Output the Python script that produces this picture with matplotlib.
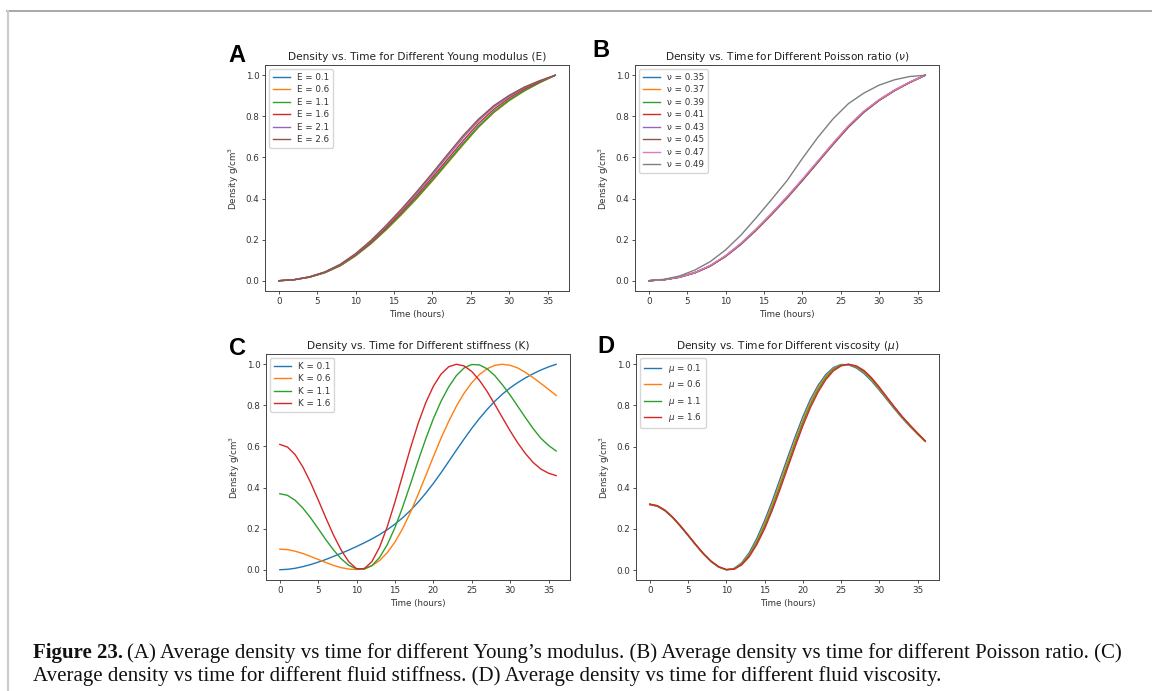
"""
Density vs. time for different material parameters (Figure 23)

Functions:
    plot_panel
    add_caption
"""


###############
# - IMPORTS - #
###############

import matplotlib

matplotlib.use("Agg")
import matplotlib.pyplot as plt
from matplotlib.lines import Line2D


############
# - DATA - #
############

# Time grids (hours)
time_coarse = [0, 2, 4, 6, 8, 10, 12, 14, 16, 18, 20, 22, 24, 26, 28, 30, 32, 34, 36]
time_fine = list(range(0, 37))

# - Panel A : Young modulus - #
young_labels = ["E = 0.1", "E = 0.6", "E = 1.1", "E = 1.6", "E = 2.1", "E = 2.6"]
dens_e_01 = [0.000, 0.005, 0.018, 0.040, 0.074, 0.123, 0.183, 0.252, 0.327, 0.407,
             0.492, 0.580, 0.668, 0.752, 0.823, 0.880, 0.927, 0.966, 1.000]
dens_e_06 = [0.000, 0.005, 0.017, 0.039, 0.073, 0.121, 0.180, 0.248, 0.322, 0.401,
             0.485, 0.573, 0.661, 0.746, 0.818, 0.876, 0.924, 0.964, 1.000]
dens_e_11 = [0.000, 0.005, 0.017, 0.039, 0.073, 0.122, 0.181, 0.250, 0.325, 0.404,
             0.489, 0.577, 0.665, 0.749, 0.821, 0.878, 0.925, 0.965, 1.000]
dens_e_16 = [0.000, 0.005, 0.018, 0.041, 0.076, 0.126, 0.187, 0.258, 0.335, 0.417,
             0.503, 0.592, 0.681, 0.765, 0.834, 0.889, 0.934, 0.969, 1.000]
dens_e_21 = [0.000, 0.005, 0.019, 0.042, 0.078, 0.129, 0.192, 0.265, 0.344, 0.427,
             0.515, 0.606, 0.696, 0.778, 0.845, 0.897, 0.940, 0.972, 1.000]
dens_e_26 = [0.000, 0.005, 0.019, 0.043, 0.080, 0.132, 0.196, 0.270, 0.350, 0.435,
             0.524, 0.616, 0.706, 0.786, 0.852, 0.902, 0.943, 0.974, 1.000]

# - Panel B : Poisson ratio - #
poisson_labels = ["ν = 0.35", "ν = 0.37", "ν = 0.39", "ν = 0.41",
                  "ν = 0.43", "ν = 0.45", "ν = 0.47", "ν = 0.49"]
dens_nu_35 = [0.000, 0.005, 0.017, 0.038, 0.071, 0.118, 0.177, 0.246, 0.322, 0.402,
              0.487, 0.575, 0.663, 0.747, 0.819, 0.877, 0.925, 0.965, 1.000]
dens_nu_37 = [0.000, 0.005, 0.017, 0.038, 0.071, 0.119, 0.178, 0.247, 0.323, 0.403,
              0.488, 0.576, 0.664, 0.748, 0.820, 0.878, 0.925, 0.965, 1.000]
dens_nu_39 = [0.000, 0.005, 0.017, 0.039, 0.072, 0.119, 0.178, 0.248, 0.324, 0.404,
              0.489, 0.577, 0.665, 0.749, 0.821, 0.879, 0.926, 0.965, 1.000]
dens_nu_41 = [0.000, 0.005, 0.017, 0.039, 0.072, 0.120, 0.179, 0.249, 0.325, 0.405,
              0.490, 0.578, 0.666, 0.750, 0.822, 0.879, 0.926, 0.966, 1.000]
dens_nu_43 = [0.000, 0.005, 0.018, 0.039, 0.073, 0.120, 0.180, 0.250, 0.326, 0.406,
              0.491, 0.579, 0.667, 0.751, 0.822, 0.880, 0.927, 0.966, 1.000]
dens_nu_45 = [0.000, 0.005, 0.018, 0.040, 0.073, 0.121, 0.181, 0.251, 0.327, 0.407,
              0.492, 0.580, 0.668, 0.752, 0.823, 0.880, 0.927, 0.966, 1.000]
dens_nu_47 = [0.000, 0.005, 0.018, 0.040, 0.074, 0.122, 0.182, 0.252, 0.328, 0.409,
              0.494, 0.582, 0.670, 0.754, 0.825, 0.881, 0.928, 0.967, 1.000]
dens_nu_49 = [0.000, 0.007, 0.023, 0.052, 0.093, 0.150, 0.222, 0.307, 0.396, 0.487,
              0.595, 0.697, 0.788, 0.862, 0.913, 0.952, 0.978, 0.994, 1.000]

# - Panel C : fluid stiffness - #
stiffness_labels = ["K = 0.1", "K = 0.6", "K = 1.1", "K = 1.6"]
dens_k_01 = [0.000, 0.002, 0.007, 0.015, 0.025, 0.037, 0.050, 0.065, 0.080, 0.096,
             0.113, 0.131, 0.150, 0.171, 0.195, 0.222, 0.253, 0.288, 0.328, 0.372,
             0.420, 0.472, 0.527, 0.582, 0.636, 0.688, 0.736, 0.780, 0.820, 0.855,
             0.885, 0.911, 0.934, 0.954, 0.972, 0.987, 1.000]
dens_k_06 = [0.100, 0.098, 0.090, 0.079, 0.065, 0.050, 0.035, 0.021, 0.010, 0.003,
             0.001, 0.006, 0.020, 0.045, 0.083, 0.135, 0.200, 0.278, 0.365, 0.457,
             0.550, 0.640, 0.722, 0.796, 0.859, 0.910, 0.950, 0.978, 0.995, 1.000,
             0.995, 0.982, 0.960, 0.935, 0.907, 0.878, 0.848]
dens_k_11 = [0.370, 0.362, 0.338, 0.300, 0.253, 0.200, 0.146, 0.096, 0.053, 0.021,
             0.004, 0.003, 0.020, 0.060, 0.122, 0.205, 0.305, 0.415, 0.528, 0.636,
             0.735, 0.820, 0.890, 0.945, 0.982, 0.999, 0.997, 0.978, 0.945, 0.900,
             0.850, 0.795, 0.740, 0.687, 0.640, 0.605, 0.578]
dens_k_16 = [0.610, 0.597, 0.560, 0.500, 0.425, 0.340, 0.252, 0.168, 0.095, 0.038,
             0.005, 0.005, 0.040, 0.110, 0.210, 0.330, 0.460, 0.590, 0.710, 0.812,
             0.893, 0.952, 0.988, 1.000, 0.992, 0.965, 0.922, 0.868, 0.805, 0.740,
             0.676, 0.617, 0.565, 0.522, 0.490, 0.470, 0.458]

# - Panel D : fluid viscosity - #
viscosity_labels = [r"$\mu$ = 0.1", r"$\mu$ = 0.6", r"$\mu$ = 1.1", r"$\mu$ = 1.6"]
dens_mu_01 = [0.318, 0.310, 0.288, 0.255, 0.213, 0.168, 0.122, 0.079, 0.042, 0.015,
              0.002, 0.008, 0.035, 0.085, 0.155, 0.240, 0.335, 0.440, 0.545, 0.648,
              0.745, 0.830, 0.898, 0.950, 0.984, 0.999, 0.997, 0.982, 0.955, 0.918,
              0.874, 0.828, 0.782, 0.738, 0.698, 0.660, 0.625]
dens_mu_06 = [0.319, 0.311, 0.289, 0.256, 0.214, 0.169, 0.123, 0.080, 0.042, 0.015,
              0.002, 0.006, 0.031, 0.077, 0.143, 0.226, 0.319, 0.423, 0.528, 0.631,
              0.730, 0.817, 0.888, 0.942, 0.979, 0.997, 0.999, 0.986, 0.961, 0.924,
              0.879, 0.832, 0.786, 0.741, 0.700, 0.662, 0.626]
dens_mu_11 = [0.320, 0.312, 0.290, 0.256, 0.215, 0.170, 0.124, 0.080, 0.043, 0.016,
              0.002, 0.005, 0.028, 0.071, 0.134, 0.213, 0.304, 0.406, 0.511, 0.615,
              0.715, 0.804, 0.877, 0.934, 0.974, 0.995, 1.000, 0.989, 0.965, 0.929,
              0.884, 0.836, 0.789, 0.744, 0.703, 0.664, 0.627]
dens_mu_16 = [0.321, 0.313, 0.291, 0.257, 0.216, 0.171, 0.125, 0.081, 0.044, 0.017,
              0.003, 0.004, 0.025, 0.065, 0.125, 0.200, 0.290, 0.390, 0.495, 0.600,
              0.700, 0.790, 0.865, 0.925, 0.968, 0.992, 1.000, 0.992, 0.970, 0.934,
              0.889, 0.840, 0.792, 0.746, 0.705, 0.666, 0.628]

# Ticks
x_ticks = [0, 5, 10, 15, 20, 25, 30, 35]
y_ticks = [0.0, 0.2, 0.4, 0.6, 0.8, 1.0]

# Caption
caption_bold = "Figure 23."
caption_line_1 = ("(A) Average density vs time for different Young\u2019s modulus. "
                  "(B) Average density vs time for different Poisson ratio. (C)")
caption_line_2 = ("Average density vs time for different fluid stiffness. "
                  "(D) Average density vs time for different fluid viscosity.")


#################
# - FUNCTIONS - #
#################

W_PX, H_PX = 1152, 691


def px_box(left, top, right, bottom):
    """Convert a pixel box (origin top-left) to figure fractions"""
    return [left / W_PX, 1 - bottom / H_PX, (right - left) / W_PX, (bottom - top) / H_PX]


def plot_panel(fig, box, time, series, labels, title, letter, letter_xy):
    """
    Description :

        Plot one density vs time panel with its legend and panel letter
    """
    ax = fig.add_axes(px_box(*box))

    for values, label in zip(series, labels):
        ax.plot(time, values, lw=1.0, label=label)

    # Formating the plot
    ax.set_title(title, fontsize=7.6, pad=3.5, color="#222222")
    ax.set_xlabel("Time (hours)", fontsize=6.3, labelpad=3, color="#333333")
    ax.set_ylabel("Density g/cm$^3$", fontsize=6.3, labelpad=3, color="#333333")
    ax.set_xticks(x_ticks)
    ax.set_yticks(y_ticks)
    ax.tick_params(labelsize=6.3, length=2.2, width=0.6, pad=1.8,
                   colors="#333333")
    for spine in ax.spines.values():
        spine.set_linewidth(0.7)
        spine.set_color("#444444")

    ax.legend(loc="upper left", fontsize=6.3, frameon=True, handlelength=2.0,
              labelspacing=0.4, borderpad=0.4, edgecolor="#cccccc",
              fancybox=True, labelcolor="#333333")

    # Panel letter
    fig.text(letter_xy[0] / W_PX, 1 - letter_xy[1] / H_PX, letter,
             fontsize=17, fontweight="bold", family="Liberation Sans",
             ha="center", va="baseline", color="black")
    return ax


def add_caption(fig):
    """Bold figure number followed by the caption text"""
    size = 15
    y1 = 1 - 658 / H_PX
    y2 = 1 - 681 / H_PX
    x0 = 33 / W_PX
    t = fig.text(x0, y1, caption_bold, fontsize=size, fontweight="bold",
                 family="Liberation Serif", va="baseline", color="#111111")
    renderer = fig.canvas.get_renderer()
    bb = t.get_window_extent(renderer)
    fig.text((bb.x1 + 4) / W_PX, y1, caption_line_1, fontsize=size,
             family="Liberation Serif", va="baseline", color="#111111")
    fig.text(x0, y2, caption_line_2, fontsize=size,
             family="Liberation Serif", va="baseline", color="#111111")


############
# - MAIN - #
############

fig = plt.figure(figsize=(W_PX / 100, H_PX / 100), dpi=100)

plot_panel(fig, (265, 65, 569, 291), time_coarse,
           [dens_e_01, dens_e_06, dens_e_11, dens_e_16, dens_e_21, dens_e_26],
           young_labels, "Density vs. Time for Different Young modulus (E)",
           "A", (237, 62))

plot_panel(fig, (635, 65, 939, 291), time_coarse,
           [dens_nu_35, dens_nu_37, dens_nu_39, dens_nu_41,
            dens_nu_43, dens_nu_45, dens_nu_47, dens_nu_49],
           poisson_labels, r"Density vs. Time for Different Poisson ratio ($\nu$)",
           "B", (601, 57))

plot_panel(fig, (266, 354, 570, 580), time_fine,
           [dens_k_01, dens_k_06, dens_k_11, dens_k_16],
           stiffness_labels, "Density vs. Time for Different stiffness (K)",
           "C", (237, 355))

plot_panel(fig, (636, 354, 939, 580), time_fine,
           [dens_mu_01, dens_mu_06, dens_mu_11, dens_mu_16],
           viscosity_labels, r"Density vs. Time for Different viscosity ($\mu$)",
           "D", (606, 353))

# Page frame lines
fig.add_artist(Line2D([7 / W_PX, 1.0], [1 - 11 / H_PX, 1 - 11 / H_PX],
                      transform=fig.transFigure, color="#999999", lw=1.2))
fig.add_artist(Line2D([7.5 / W_PX, 7.5 / W_PX], [0.0, 1 - 11 / H_PX],
                      transform=fig.transFigure, color="#cccccc", lw=1.6))

add_caption(fig)

fig.savefig("out.png", dpi=100)
